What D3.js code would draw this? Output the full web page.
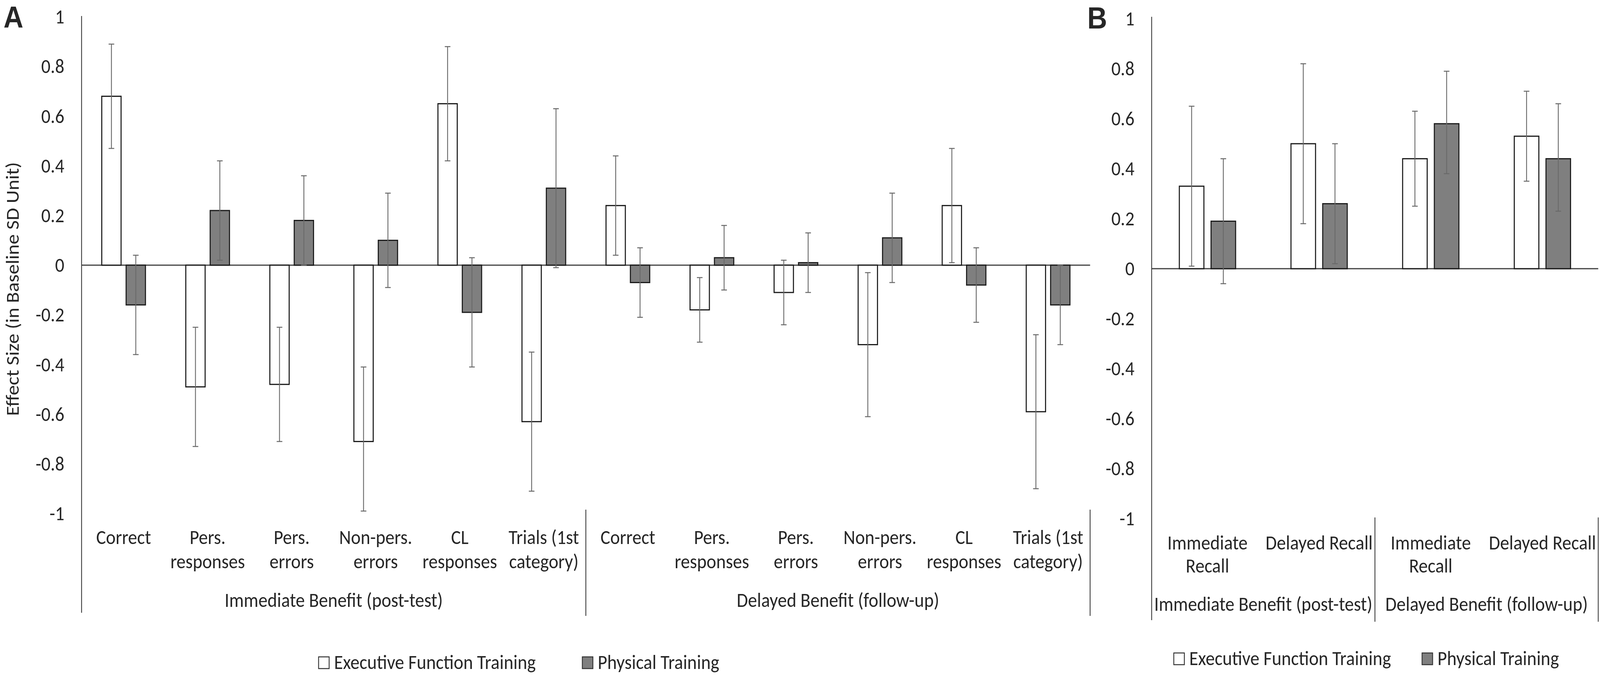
<!DOCTYPE html>
<html>
<head>
<meta charset="utf-8">
<script src="https://cdn.jsdelivr.net/npm/d3@7/dist/d3.min.js"></script>
<style>
  html, body { margin: 0; padding: 0; background: #fff; overflow: hidden; }
  svg { display: block; }
  text { font-family: Carlito, Calibri, Lato, sans-serif; fill: #262626; }
</style>
</head>
<body>
<svg id="chart"></svg>
<script>
// ---- data: panel A (WCST outcomes) ----
const subtestsA = [
  ["Correct"], ["Pers.", "responses"], ["Pers.", "errors"], ["Non-pers.", "errors"],
  ["CL", "responses"], ["Trials (1st", "category)"],
  ["Correct"], ["Pers.", "responses"], ["Pers.", "errors"], ["Non-pers.", "errors"],
  ["CL", "responses"], ["Trials (1st", "category)"]
];
const efMeanA = [0.68, -0.49, -0.48, -0.71, 0.65, -0.63, 0.24, -0.18, -0.11, -0.32, 0.24, -0.59];
const efLowA  = [0.47, -0.73, -0.71, -0.99, 0.42, -0.91, 0.04, -0.31, -0.24, -0.61, 0.01, -0.90];
const efHighA = [0.89, -0.25, -0.25, -0.41, 0.88, -0.35, 0.44, -0.05, 0.02, -0.03, 0.47, -0.28];
const ptMeanA = [-0.16, 0.22, 0.18, 0.10, -0.19, 0.31, -0.07, 0.03, 0.01, 0.11, -0.08, -0.16];
const ptLowA  = [-0.36, 0.02, 0.00, -0.09, -0.41, -0.01, -0.21, -0.10, -0.11, -0.07, -0.23, -0.32];
const ptHighA = [0.04, 0.42, 0.36, 0.29, 0.03, 0.63, 0.07, 0.16, 0.13, 0.29, 0.07, 0.00];

// ---- data: panel B (recall) ----
const subtestsB = [["Immediate", "Recall"], ["Delayed Recall"], ["Immediate", "Recall"], ["Delayed Recall"]];
const efMeanB = [0.33, 0.50, 0.44, 0.53];
const efLowB  = [0.01, 0.18, 0.25, 0.35];
const efHighB = [0.65, 0.82, 0.63, 0.71];
const ptMeanB = [0.19, 0.26, 0.58, 0.44];
const ptLowB  = [-0.06, 0.02, 0.38, 0.23];
const ptHighB = [0.44, 0.50, 0.79, 0.66];

const groupLabels = ["Immediate Benefit (post-test)", "Delayed Benefit (follow-up)"];
const seriesNames = ["Executive Function Training", "Physical Training"];
const yTicks = [1, 0.8, 0.6, 0.4, 0.2, 0, -0.2, -0.4, -0.6, -0.8, -1];
const yTitle = "Effect Size (in Baseline SD Unit)";

const width = 4550, height = 1731;
// drawing coordinates are in reference pixels; the viewBox stretches them over the window
const svg = d3.select("#chart")
  .attr("viewBox", `0 0 ${width} ${height}`)
  .attr("preserveAspectRatio", "none")
  .style("width", "100vw")
  .style("height", "100vh");

// size the Calibri-like font so a known label matches the reference width
function fitFont(str, target) {
  const t = svg.append("text").style("font-size", "100px").text(str);
  const w = t.node().getBBox().width;
  t.remove();
  return 100 * target / w;
}
const fs = fitFont("Delayed Benefit (follow-up)", 576);

function drawPanel(p) {
  const g = svg.append("g");
  const n = p.labels.length;
  const x = d3.scaleBand().domain(d3.range(n)).range([p.x0, p.x1]);
  const y = d3.scaleLinear().domain([-1, 1]).range([p.yBottom, p.yTop]);

  // y tick labels
  const axis = d3.axisLeft(y).tickValues(yTicks).tickSize(0).tickPadding(49)
    .tickFormat(d => String(d));
  const ax = g.append("g").attr("transform", `translate(${p.x0},0)`).call(axis);
  ax.select(".domain").remove();
  ax.selectAll("text").style("font-size", fs + "px").attr("fill", "#262626")
    .style("font-family", "Carlito, Calibri, Lato, sans-serif");

  // vertical axis line (runs down through category area)
  g.append("line").attr("x1", p.x0).attr("x2", p.x0)
    .attr("y1", p.axisTop).attr("y2", p.axisBottom)
    .attr("stroke", "#404040").attr("stroke-width", 2.5);

  // zero line
  g.append("line").attr("x1", p.x0).attr("x2", p.x1)
    .attr("y1", y(0)).attr("y2", y(0))
    .attr("stroke", "#404040").attr("stroke-width", 3);

  const bw = x.bandwidth() * p.barFrac;
  const off = x.bandwidth() * p.offFrac;
  const series = [
    { mean: p.efMean, low: p.efLow, high: p.efHigh, fill: "#ffffff", dx: -off },
    { mean: p.ptMean, low: p.ptLow, high: p.ptHigh, fill: "#7f7f7f", dx: off }
  ];

  series.forEach(s => {
    g.selectAll(null).data(s.mean).enter().append("rect")
      .attr("x", (d, i) => x(i) + x.bandwidth() / 2 + s.dx - bw / 2)
      .attr("y", d => Math.min(y(d), y(0)))
      .attr("width", bw)
      .attr("height", d => Math.abs(y(d) - y(0)))
      .attr("fill", s.fill)
      .attr("stroke", "#1a1a1a").attr("stroke-width", 3);
  });

  series.forEach(s => {
    const cx = i => x(i) + x.bandwidth() / 2 + s.dx;
    const eb = g.selectAll(null).data(s.mean).enter().append("g")
      .attr("stroke", "#6a6a6a").attr("stroke-width", 2.5);
    eb.append("line").attr("x1", (d, i) => cx(i)).attr("x2", (d, i) => cx(i))
      .attr("y1", (d, i) => y(s.low[i])).attr("y2", (d, i) => y(s.high[i]));
    eb.append("line").attr("x1", (d, i) => cx(i) - 8).attr("x2", (d, i) => cx(i) + 8)
      .attr("y1", (d, i) => y(s.high[i])).attr("y2", (d, i) => y(s.high[i]));
    eb.append("line").attr("x1", (d, i) => cx(i) - 8).attr("x2", (d, i) => cx(i) + 8)
      .attr("y1", (d, i) => y(s.low[i])).attr("y2", (d, i) => y(s.low[i]));
  });

  // category labels
  const cat = g.selectAll(null).data(p.labels).enter().append("text")
    .attr("text-anchor", "middle").style("font-size", fs + "px")
    .attr("x", (d, i) => x(i) + x.bandwidth() / 2)
    .attr("y", p.catY);
  cat.selectAll("tspan").data(d => d).enter().append("tspan")
    .attr("x", function () { return d3.select(this.parentNode).attr("x"); })
    .attr("dy", (d, j) => j === 0 ? 0 : p.lineH)
    .text(d => d);

  // group separators and labels
  const half = n / 2;
  [x(half), p.x1].forEach(sx => {
    g.append("line").attr("x1", sx).attr("x2", sx)
      .attr("y1", p.sepTop).attr("y2", p.sepBottom)
      .attr("stroke", "#404040").attr("stroke-width", 2.5);
  });
  g.selectAll(null).data(groupLabels).enter().append("text")
    .attr("text-anchor", "middle").style("font-size", fs + "px")
    .attr("x", (d, i) => i === 0 ? (p.x0 + x(half)) / 2 : (x(half) + p.x1) / 2)
    .attr("y", p.groupY)
    .text(d => d);

  // legend
  const lg = g.selectAll(null).data(seriesNames).enter().append("g")
    .attr("transform", (d, i) => `translate(${p.legendX[i]},${p.legendY})`);
  lg.append("rect").attr("x", 0).attr("y", -15).attr("width", 30).attr("height", 30)
    .attr("fill", (d, i) => i === 0 ? "#ffffff" : "#7f7f7f")
    .attr("stroke", "#333").attr("stroke-width", 2.5);
  lg.append("text").attr("x", 44).attr("y", 16).style("font-size", fs + "px").text(d => d);

  // panel letter
  svg.append("text").attr("x", p.letterX).attr("y", p.letterY)
    .style("font-family", "'Liberation Sans', Arial, sans-serif")
    .style("font-weight", "bold").style("font-size", "78px").attr("fill", "#000")
    .text(p.letter);
}

drawPanel({
  letter: "A", letterX: 10, letterY: 71,
  labels: subtestsA,
  efMean: efMeanA, efLow: efLowA, efHigh: efHighA,
  ptMean: ptMeanA, ptLow: ptLowA, ptHigh: ptHighA,
  x0: 232, x1: 3100, yTop: 43, yBottom: 1315,
  axisTop: 41, axisBottom: 1569, sepTop: 1305, sepBottom: 1577,
  barFrac: 0.23, offFrac: 0.145,
  catY: 1393, lineH: 62, groupY: 1554,
  legendX: [906, 1656], legendY: 1697
});

drawPanel({
  letter: "B", letterX: 3092, letterY: 73,
  labels: subtestsB,
  efMean: efMeanB, efLow: efLowB, efHigh: efHighB,
  ptMean: ptMeanB, ptLow: ptLowB, ptHigh: ptHighB,
  x0: 3275, x1: 4545, yTop: 48, yBottom: 1328,
  axisTop: 43, axisBottom: 1588, sepTop: 1325, sepBottom: 1592,
  barFrac: 0.22, offFrac: 0.142,
  catY: 1407, lineH: 59, groupY: 1564,
  legendX: [3338, 4044], legendY: 1687
});

// y axis title (panel A only)
svg.append("text")
  .attr("transform", "translate(53,740) rotate(-90)")
  .attr("text-anchor", "middle")
  .style("font-size", fs + "px")
  .text(yTitle);
</script>
</body>
</html>
